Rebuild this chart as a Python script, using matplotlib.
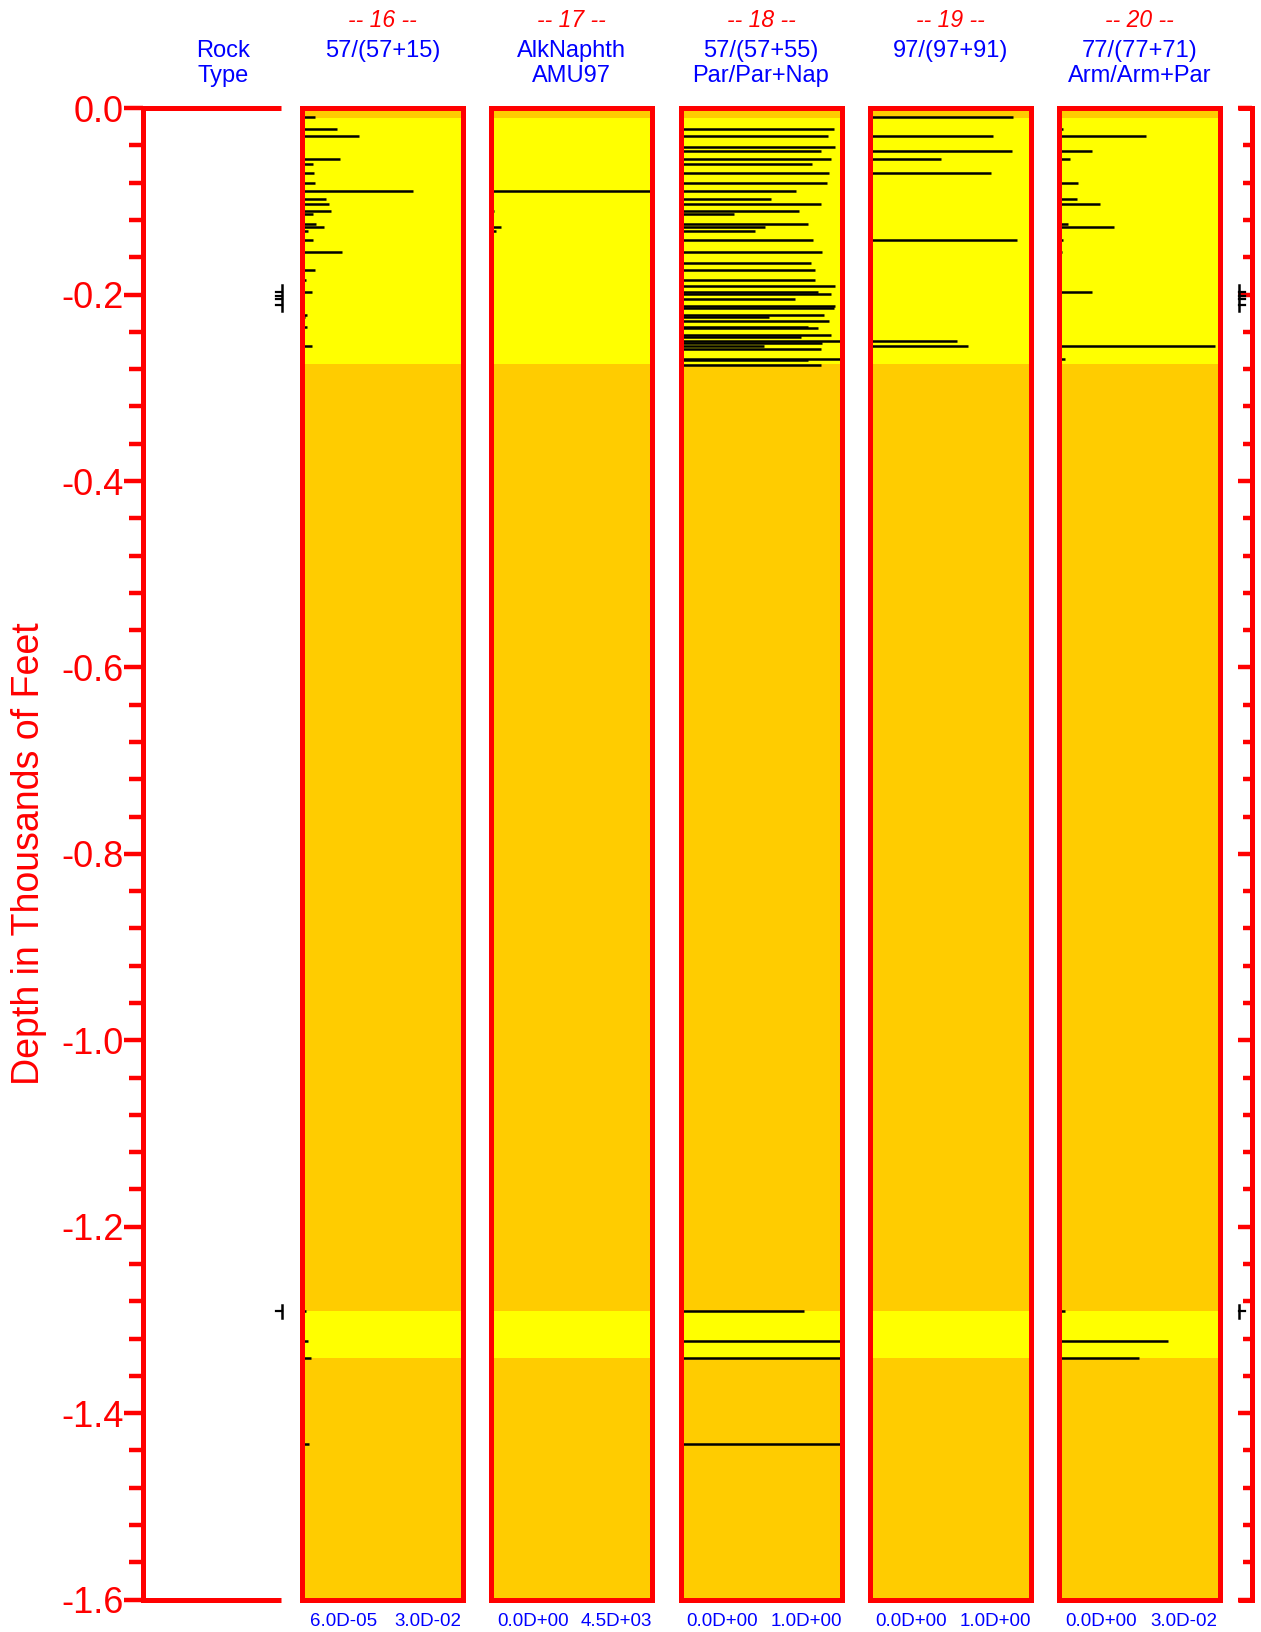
import matplotlib
matplotlib.use("Agg")
import matplotlib.pyplot as plt
from matplotlib.ticker import MultipleLocator, FixedFormatter, FixedLocator
import numpy as np

plt.rcParams['font.family'] = ['Liberation Sans', 'DejaVu Sans']

# ---------------- data ----------------
panel_numbers = ["-- 16 --", "-- 17 --", "-- 18 --", "-- 19 --", "-- 20 --"]
panel_titles = [["57/(57+15)"], ["AlkNaphth", "AMU97"], ["57/(57+55)", "Par/Par+Nap"],
                ["97/(97+91)"], ["77/(77+71)", "Arm/Arm+Par"]]
panel_low_labels = ["6.0D-05", "0.0D+00", "0.0D+00", "0.0D+00", "0.0D+00"]
panel_high_labels = ["3.0D-02", "4.5D+03", "1.0D+00", "1.0D+00", "3.0D-02"]

# depth (thousands of feet) and relative value (fraction of panel width)
p16_depth = [0.0093, 0.0218, 0.0297, 0.0458, 0.0544, 0.0594, 0.0694, 0.0805, 0.0891, 0.0976,
             0.1023, 0.1098, 0.1130, 0.1245, 0.1277, 0.1320, 0.1416, 0.1541, 0.1659, 0.1738,
             0.1838, 0.1903, 0.1971, 0.1996, 0.2046, 0.2221, 0.2242, 0.2343, 0.2496, 0.2554,
             1.2904, 1.3226, 1.3408, 1.4327]
p16_value = [0.081, 0.215, 0.353, 0.004, 0.234, 0.066, 0.072, 0.083, 0.687, 0.151,
             0.170, 0.183, 0.070, 0.085, 0.134, 0.040, 0.068, 0.247, 0.004, 0.079,
             0.023, 0.011, 0.062, 0.004, 0.004, 0.030, 0.017, 0.028, 0.011, 0.062,
             0.023, 0.036, 0.053, 0.045]

p17_depth = [0.0297, 0.0458, 0.0891, 0.1098, 0.1277, 0.1320, 0.1416, 0.1541, 0.2554]
p17_value = [0.004, 0.002, 1.000, 0.019, 0.064, 0.034, 0.009, 0.011, 0.009]

p18_depth = [0.0218, 0.0297, 0.0411, 0.0458, 0.0544, 0.0594, 0.0694, 0.0805, 0.0891, 0.0976,
             0.1023, 0.1098, 0.1130, 0.1245, 0.1277, 0.1320, 0.1416, 0.1541, 0.1659, 0.1738,
             0.1838, 0.1903, 0.1971, 0.1996, 0.2046, 0.2121, 0.2139, 0.2221, 0.2242, 0.2278,
             0.2343, 0.2361, 0.2432, 0.2454, 0.2496, 0.2514, 0.2554, 0.2582, 0.2690, 0.2704,
             0.2750, 1.2904, 1.3226, 1.3408, 1.4327]
p18_value = [0.951, 0.915, 0.962, 0.870, 0.934, 0.819, 0.923, 0.909, 0.717, 0.562,
             0.874, 0.734, 0.330, 0.791, 0.526, 0.462, 0.823, 0.877, 0.809, 0.834,
             0.838, 0.957, 0.857, 0.934, 0.711, 0.962, 0.951, 0.889, 0.549, 0.923,
             0.791, 0.857, 0.934, 0.749, 1.000, 0.881, 0.517, 0.874, 0.996, 0.791,
             0.870, 0.764, 1.000, 1.000, 1.000]

p19_depth = [0.0093, 0.0297, 0.0458, 0.0544, 0.0694, 0.1416, 0.2496, 0.2554]
p19_value = [0.894, 0.767, 0.888, 0.441, 0.752, 0.915, 0.540, 0.610]

p20_depth = [0.0218, 0.0297, 0.0458, 0.0544, 0.0805, 0.0891, 0.0976, 0.1023, 0.1245, 0.1277,
             0.1320, 0.1416, 0.1541, 0.1971, 0.2343, 0.2554, 0.2690, 1.2904, 1.3226, 1.3408]
p20_value = [0.028, 0.545, 0.206, 0.068, 0.119, 0.011, 0.115, 0.257, 0.053, 0.343,
             0.004, 0.023, 0.017, 0.206, 0.004, 0.970, 0.038, 0.038, 0.677, 0.496]

panel_depths = [p16_depth, p17_depth, p18_depth, p19_depth, p20_depth]
panel_values = [p16_value, p17_value, p18_value, p19_value, p20_value]

# zones (depth ranges) shown in yellow; rest of the column is orange
zone_top = [0.0104, 1.2905]
zone_bottom = [0.2747, 1.3410]

# sample marker groups
sample_groups = [[0.197, 0.201, 0.205, 0.211], [1.2905]]

depth_max = 1.6
ytick_values = [0.0, -0.2, -0.4, -0.6, -0.8, -1.0, -1.2, -1.4, -1.6]
ytick_labels = ["0.0", "-0.2", "-0.4", "-0.6", "-0.8", "-1.0", "-1.2", "-1.4", "-1.6"]

# ---------------- layout ----------------
W, H = 1261, 1632
fig = plt.figure(figsize=(W / 100, H / 100), dpi=100)

RED = '#FF0000'
BLUE = '#0000FF'
ORANGE = '#FFCC00'
YELLOW = '#FFFF00'

y_top_px, y_bot_px = 108.2, 1599.5
bot_f = 1 - y_bot_px / H
h_f = (y_bot_px - y_top_px) / H

def add_ax(x0, x1):
    return fig.add_axes([x0 / W, bot_f, (x1 - x0) / W, h_f])

def fx(px):
    return px / W

def fy(py):
    return 1 - py / H

spine_lw = 3.6

# rock type column
rock_x0, rock_x1 = 143.0, 304.0
ax_r = add_ax(rock_x0, rock_x1)
ax_r.set_xlim(0, 1)
ax_r.set_ylim(-depth_max, 0)
for s in ['top', 'bottom', 'right']:
    ax_r.spines[s].set_visible(False)
ax_r.spines['left'].set_color(RED)
ax_r.spines['left'].set_linewidth(spine_lw)
ax_r.patch.set_visible(False)
end_frac = (281 - rock_x0) / (rock_x1 - rock_x0)
ax_r.plot([0, end_frac], [0, 0], color=RED, lw=spine_lw, clip_on=False, solid_capstyle='butt')
ax_r.plot([0, end_frac], [-depth_max, -depth_max], color=RED, lw=spine_lw, clip_on=False,
          solid_capstyle='butt')
ax_r.set_xticks([])
ax_r.yaxis.set_major_locator(FixedLocator(ytick_values))
ax_r.yaxis.set_major_formatter(FixedFormatter(ytick_labels))
ax_r.yaxis.set_minor_locator(MultipleLocator(0.04))
ax_r.tick_params(axis='y', which='major', direction='out', length=14, width=3.2, color=RED,
                 labelcolor=RED, labelsize=26, pad=0)
ax_r.tick_params(axis='y', which='minor', direction='out', length=10, width=3.2, color=RED)
ax_r.set_ylabel("Depth in Thousands of Feet", color=RED, fontsize=27, labelpad=10)

# sample markers on rock column
xm = (282 - rock_x0) / (rock_x1 - rock_x0)
xm2 = (276 - rock_x0) / (rock_x1 - rock_x0)
for g in sample_groups:
    ax_r.plot([xm, xm], [-(min(g) - 0.007), -(max(g) + 0.007)], color='black', lw=1.8,
              clip_on=False)
    for d in g:
        ax_r.plot([xm2, xm], [-d, -d], color='black', lw=1.6, clip_on=False)

fig.text(fx((rock_x0 + rock_x1) / 2), fy(51), "Rock", color=BLUE, fontsize=17,
         ha='center', va='center')
fig.text(fx((rock_x0 + rock_x1) / 2), fy(76), "Type", color=BLUE, fontsize=17,
         ha='center', va='center')

# data panels
panel_x0 = [302.0, 491.0, 680.5, 869.7, 1059.0]
panel_x1 = [463.0, 652.0, 841.5, 1030.5, 1219.5]

for i in range(5):
    ax = add_ax(panel_x0[i], panel_x1[i])
    ax.set_xlim(0, 1)
    ax.set_ylim(-depth_max, 0)
    ax.set_facecolor(ORANGE)
    for zt, zb in zip(zone_top, zone_bottom):
        ax.axhspan(-zb, -zt, color=YELLOW, lw=0, zorder=0.5)
    d = np.array(panel_depths[i])
    v = np.array(panel_values[i])
    ax.hlines(-d, 0, v, color='black', lw=1.8, zorder=2)
    for s in ax.spines.values():
        s.set_color(RED)
        s.set_linewidth(spine_lw)
        s.set_zorder(3)
    ax.set_xticks([])
    ax.set_yticks([])
    cx = (panel_x0[i] + panel_x1[i]) / 2
    fig.text(fx(cx), fy(20.5), panel_numbers[i], color=RED, fontsize=16.5, style='italic',
             ha='center', va='center')
    for k, line in enumerate(panel_titles[i]):
        fig.text(fx(cx), fy(51 + 25 * k), line, color=BLUE, fontsize=17,
                 ha='center', va='center')
    wpx = panel_x1[i] - panel_x0[i]
    fig.text(fx(panel_x0[i] + 0.26 * wpx), fy(1621), panel_low_labels[i], color=BLUE,
             fontsize=13.5, ha='center', va='center')
    fig.text(fx(panel_x0[i] + 0.78 * wpx), fy(1621), panel_high_labels[i], color=BLUE,
             fontsize=13.5, ha='center', va='center')

# right-hand depth axis
rx0, rx1 = 1238.0, 1252.0
ax_q = add_ax(rx0, rx1)
ax_q.set_xlim(0, 1)
ax_q.set_ylim(-depth_max, 0)
ax_q.patch.set_visible(False)
for s in ['top', 'bottom', 'left']:
    ax_q.spines[s].set_visible(False)
ax_q.spines['right'].set_color(RED)
ax_q.spines['right'].set_linewidth(spine_lw)
ax_q.plot([0, 1], [0, 0], color=RED, lw=spine_lw, clip_on=False, solid_capstyle='butt')
ax_q.plot([0, 1], [-depth_max, -depth_max], color=RED, lw=spine_lw, clip_on=False,
          solid_capstyle='butt')
ax_q.set_xticks([])
ax_q.yaxis.tick_right()
ax_q.yaxis.set_major_locator(FixedLocator(ytick_values))
ax_q.yaxis.set_minor_locator(MultipleLocator(0.04))
ax_q.tick_params(axis='y', which='major', direction='in', length=10, width=3.2, color=RED,
                 labelright=False)
ax_q.tick_params(axis='y', which='minor', direction='in', length=6.5, width=3.2, color=RED)
xq = (1239 - rx0) / (rx1 - rx0)
xq2 = (1245 - rx0) / (rx1 - rx0)
for g in sample_groups:
    ax_q.plot([xq, xq], [-(min(g) - 0.007), -(max(g) + 0.007)], color='black', lw=1.8,
              clip_on=False)
    for d in g:
        ax_q.plot([xq, xq2], [-d, -d], color='black', lw=1.6, clip_on=False)

fig.savefig("out.png", dpi=100)
